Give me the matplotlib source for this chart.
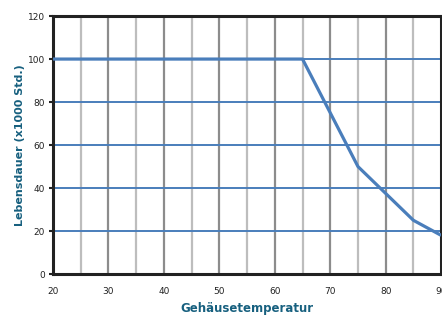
import numpy as np
import matplotlib.pyplot as plt

# Lebensdauer vs Gehaeusetemperatur
temp = np.array([20, 65, 75, 85, 90])
life = np.array([100, 100, 50, 25, 18])

x_major = np.arange(20, 91, 10)
x_minor = np.arange(25, 90, 10)
y_ticks = np.arange(0, 121, 20)

blue = '#4a7ebb'
title_col = '#17607f'

fig = plt.figure(figsize=(4.42, 3.15), dpi=100)
ax = fig.add_axes([0.12, 0.13, 0.878, 0.819])

for xv in x_minor:
    ax.axvline(xv, color='#bdbdbd', lw=1.6, zorder=1)
for xv in x_major[1:-1]:
    ax.axvline(xv, color='#8c8c8c', lw=1.6, zorder=1)
for yv in y_ticks[1:-1]:
    ax.axhline(yv, color=blue, lw=1.4, zorder=2)

ax.plot(temp, life, color=blue, lw=2.3, zorder=3, solid_capstyle='butt')

ax.set_xlim(20, 90)
ax.set_ylim(0, 120)
ax.set_xticks(x_major)
ax.set_yticks(y_ticks)
ax.tick_params(axis='x', length=0, pad=9, labelsize=6.5, colors='#222222')
ax.tick_params(axis='y', length=3, width=1.5, pad=3, labelsize=6.5, colors='#222222')
for s in ax.spines.values():
    s.set_linewidth(2.2)
    s.set_color('#222222')

ax.set_xlabel('Gehäusetemperatur', fontsize=8.5, fontweight='bold', color=title_col, labelpad=5)
ax.set_ylabel('Lebensdauer (x1000 Std.)', fontsize=8, fontweight='bold', color=title_col, labelpad=2)

fig.savefig('out.png', dpi=100)
